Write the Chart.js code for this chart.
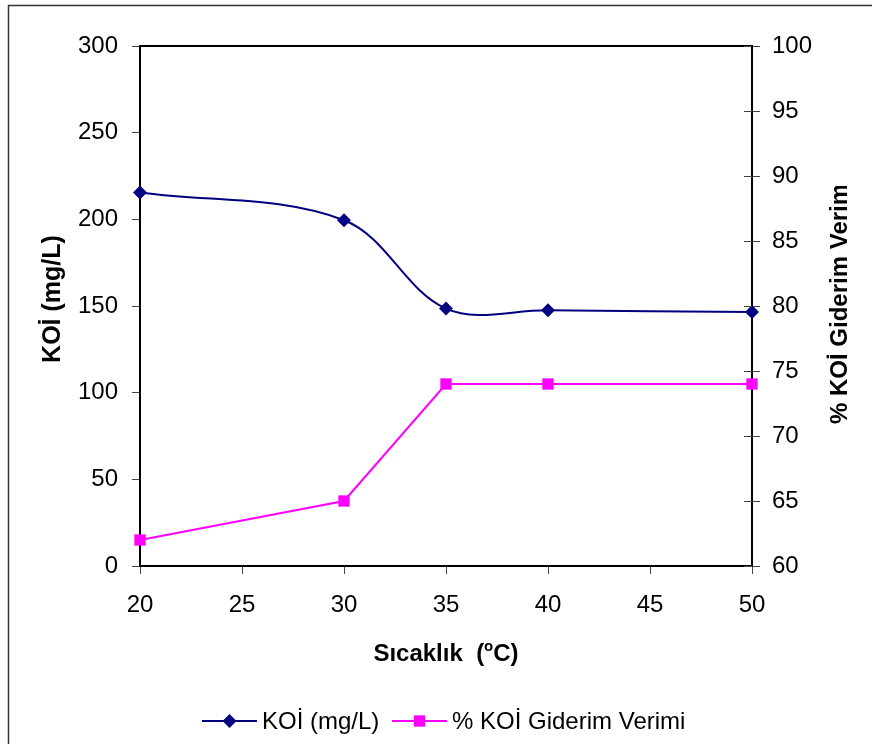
<!DOCTYPE html>
<html>
<head>
<meta charset="utf-8">
<title>KOİ ve Giderim Verimi</title>
<script src="https://cdn.jsdelivr.net/npm/chart.js@4/dist/chart.umd.min.js"></script>
<style>
  html, body { margin: 0; padding: 0; background: #fff; }
  #wrap { width: 872px; height: 744px; }
</style>
</head>
<body>
<div id="wrap"><canvas id="c" width="872" height="744"></canvas></div>
<script>
// Temperature (°C)
const temperatures = [20, 30, 35, 40, 50];
// COD concentration (mg/L), left axis
const kodValues = [215.5, 199.5, 148.5, 147.5, 146.5];
// COD removal efficiency (%), right axis
const removalValues = [62, 65, 74, 74, 74];

const seriesNames = ['KOİ (mg/L)', '% KOİ Giderim Verimi'];
const xTitle = 'Sıcaklık';
const yTitle = 'KOİ (mg/L)';
const y2Title = '% KOİ Giderim Verimi';

const FONT = '"Liberation Sans", Arial, Helvetica, sans-serif';
const NAVY = '#000080';
const MAGENTA = '#FF00FF';

const toPoints = (vals) => temperatures.map((t, i) => ({ x: t, y: vals[i] }));

// Frame, plot box, crossing ticks on the right axis, titles and legend
const decorations = {
  id: 'decorations',
  beforeDraw(chart) {
    const ctx = chart.ctx;
    ctx.save();
    ctx.fillStyle = '#fff';
    ctx.fillRect(0, 0, chart.width, chart.height);
    ctx.strokeStyle = '#333';
    ctx.lineWidth = 1.5;
    ctx.strokeRect(8.5, 5.5, chart.width + 20, chart.height + 20);
    ctx.restore();
  },
  afterDraw(chart) {
    const ctx = chart.ctx;
    const a = chart.chartArea;
    const y2 = chart.scales.y2;
    ctx.save();

    // top edge of the plot box
    ctx.strokeStyle = '#000';
    ctx.lineWidth = 2;
    ctx.beginPath();
    ctx.moveTo(a.left - 1, a.top);
    ctx.lineTo(a.right + 1, a.top);
    ctx.stroke();

    // inner half of the right axis tick marks
    ctx.strokeStyle = '#444';
    ctx.lineWidth = 1;
    y2.ticks.forEach(t => {
      const py = Math.round(y2.getPixelForValue(t.value)) + 0.5;
      ctx.beginPath();
      ctx.moveTo(a.right - 8, py);
      ctx.lineTo(a.right, py);
      ctx.stroke();
    });

    ctx.fillStyle = '#000';

    // left axis title
    ctx.save();
    ctx.translate(60, 299);
    ctx.rotate(-Math.PI / 2);
    ctx.font = 'bold 25px ' + FONT;
    ctx.textAlign = 'center';
    ctx.textBaseline = 'alphabetic';
    ctx.fillText(yTitle, 0, 0);
    ctx.restore();

    // right axis title (runs into the top edge of its box)
    ctx.save();
    ctx.beginPath();
    ctx.rect(800, 186, 72, 300);
    ctx.clip();
    ctx.translate(847, 424);
    ctx.rotate(-Math.PI / 2);
    ctx.font = 'bold 24px ' + FONT;
    ctx.textAlign = 'left';
    ctx.textBaseline = 'alphabetic';
    ctx.fillText(y2Title, 0, 0);
    ctx.restore();

    // x axis title with superscript degree sign
    const part1 = xTitle + '  (';
    const part3 = 'C)';
    ctx.font = 'bold 24px ' + FONT;
    const w1 = ctx.measureText(part1).width;
    const w3 = ctx.measureText(part3).width;
    ctx.font = 'bold 15px ' + FONT;
    const w2 = ctx.measureText('o').width;
    const total = w1 + w2 + w3;
    let tx = 446 - total / 2;
    const base = 661;
    ctx.textAlign = 'left';
    ctx.textBaseline = 'alphabetic';
    ctx.font = 'bold 24px ' + FONT;
    ctx.fillText(part1, tx, base);
    tx += w1;
    ctx.font = 'bold 15px ' + FONT;
    ctx.fillText('o', tx, base - 10);
    tx += w2;
    ctx.font = 'bold 24px ' + FONT;
    ctx.fillText(part3, tx, base);

    // legend: line with centred marker, then label
    const ly = 721;
    const items = [
      { x0: 202, x1: 257, color: NAVY, style: 'rectRot', r: 7, label: seriesNames[0], tx: 262 },
      { x0: 392, x1: 447, color: MAGENTA, style: 'rect', r: 8, label: seriesNames[1], tx: 452 }
    ];
    items.forEach(it => {
      ctx.strokeStyle = it.color;
      ctx.lineWidth = 2;
      ctx.beginPath();
      ctx.moveTo(it.x0, ly);
      ctx.lineTo(it.x1, ly);
      ctx.stroke();
      ctx.fillStyle = it.color;
      Chart.helpers.drawPoint(ctx, { pointStyle: it.style, radius: it.r, borderWidth: 0, rotation: 0 }, (it.x0 + it.x1) / 2, ly);
      ctx.fillStyle = '#000';
      ctx.font = '24px ' + FONT;
      ctx.textAlign = 'left';
      ctx.textBaseline = 'middle';
      ctx.fillText(it.label, it.tx, ly + 1);
    });

    ctx.restore();
  }
};

const tickFont = { family: FONT, size: 24 };

new Chart(document.getElementById('c'), {
  type: 'line',
  data: {
    datasets: [
      {
        label: seriesNames[0],
        data: toPoints(kodValues),
        yAxisID: 'y',
        borderColor: NAVY,
        backgroundColor: NAVY,
        borderWidth: 2,
        tension: 0.35,
        pointStyle: 'rectRot',
        pointRadius: 7,
        pointBorderWidth: 0,
        clip: false
      },
      {
        label: seriesNames[1],
        data: toPoints(removalValues),
        yAxisID: 'y2',
        borderColor: MAGENTA,
        backgroundColor: MAGENTA,
        borderWidth: 2,
        tension: 0,
        pointStyle: 'rect',
        pointRadius: 8,
        pointBorderWidth: 0,
        clip: false
      }
    ]
  },
  options: {
    responsive: false,
    animation: false,
    devicePixelRatio: 1,
    layout: { padding: { top: 46, left: 0, right: 0, bottom: 0 } },
    plugins: {
      legend: { display: false },
      tooltip: { enabled: false }
    },
    scales: {
      x: {
        type: 'linear',
        min: 20,
        max: 50,
        afterFit: s => { s.height = 178; },
        ticks: { stepSize: 5, font: tickFont, color: '#000', padding: 17, maxRotation: 0 },
        grid: { drawOnChartArea: false, drawTicks: true, tickLength: 8, color: '#444' },
        border: { color: '#000', width: 2 }
      },
      y: {
        position: 'left',
        min: 0,
        max: 300,
        afterFit: s => { s.width = 140; },
        ticks: { stepSize: 50, font: tickFont, color: '#000', padding: 14 },
        grid: { drawOnChartArea: false, drawTicks: true, tickLength: 8, color: '#444' },
        border: { color: '#000', width: 2 }
      },
      y2: {
        position: 'right',
        min: 60,
        max: 100,
        afterFit: s => { s.width = 120; },
        ticks: { stepSize: 5, font: tickFont, color: '#000', padding: 12 },
        grid: { drawOnChartArea: false, drawTicks: true, tickLength: 8, color: '#444' },
        border: { color: '#000', width: 2 }
      }
    }
  },
  plugins: [decorations]
});
</script>
</body>
</html>
